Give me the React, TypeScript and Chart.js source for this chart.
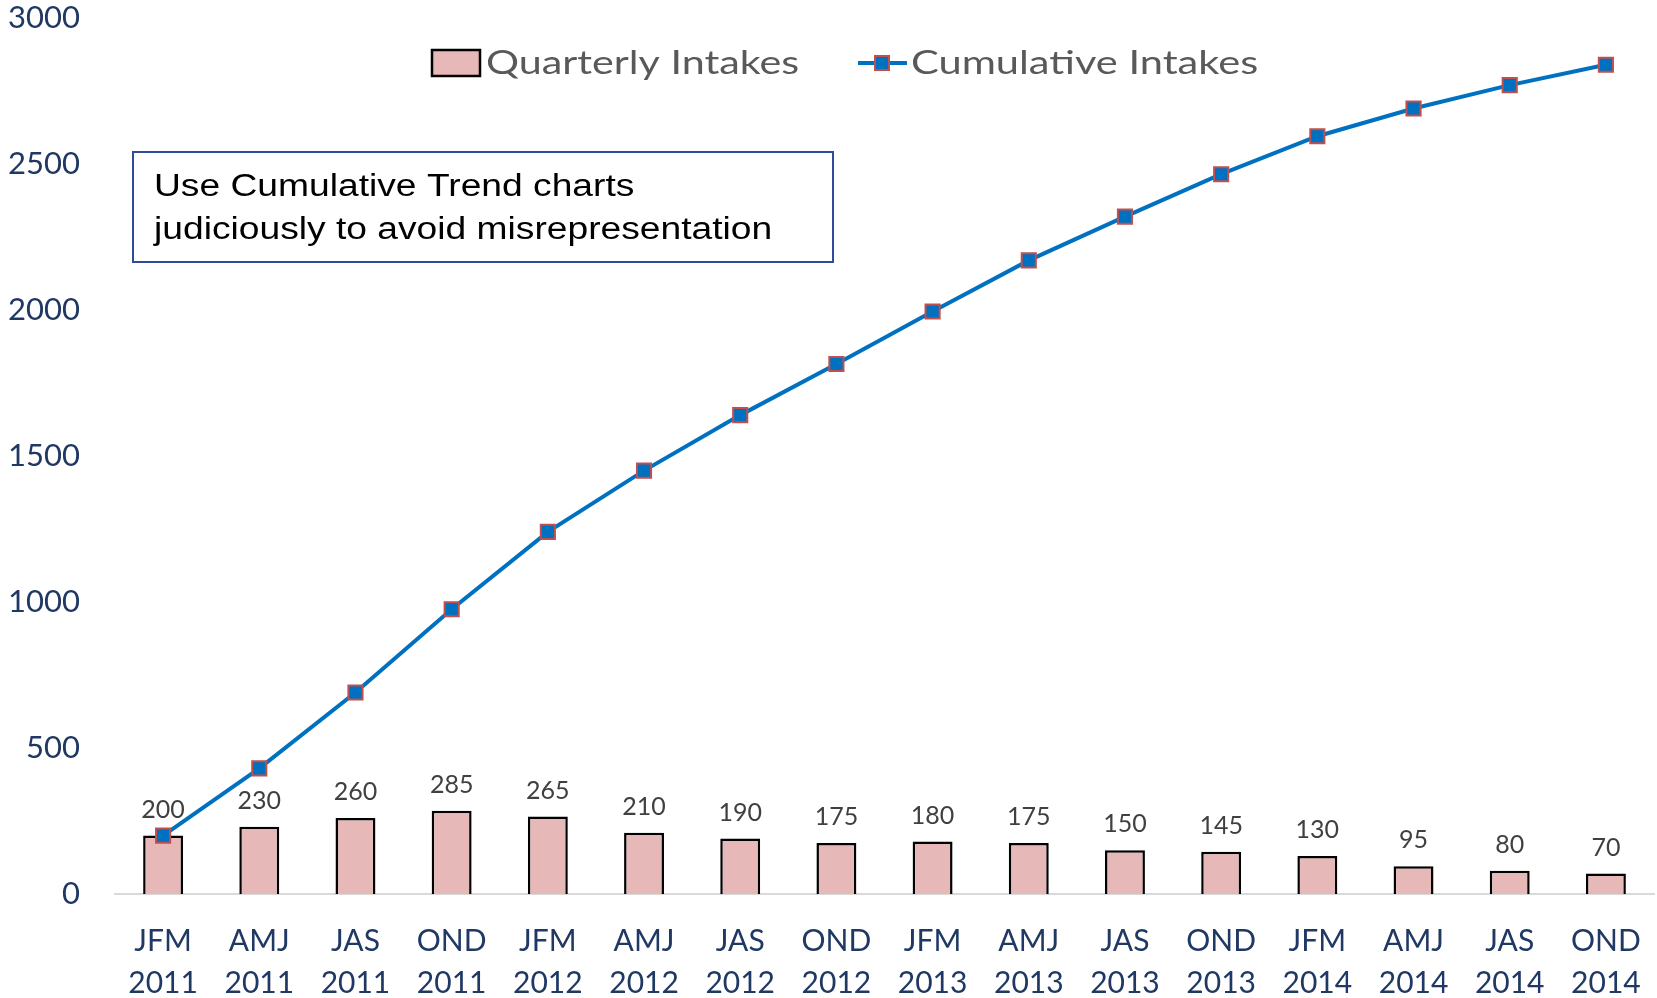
import React, { useEffect, useRef } from 'react';
import { Chart, registerables } from 'chart.js';

Chart.register(...registerables);

const quarterNames = ['JFM', 'AMJ', 'JAS', 'OND', 'JFM', 'AMJ', 'JAS', 'OND', 'JFM', 'AMJ', 'JAS', 'OND', 'JFM', 'AMJ', 'JAS', 'OND'];
const yearNames = ['2011', '2011', '2011', '2011', '2012', '2012', '2012', '2012', '2013', '2013', '2013', '2013', '2014', '2014', '2014', '2014'];
const quarterlyIntakes = [200, 230, 260, 285, 265, 210, 190, 175, 180, 175, 150, 145, 130, 95, 80, 70];
const cumulativeIntakes = [200, 430, 690, 975, 1240, 1450, 1640, 1815, 1995, 2170, 2320, 2465, 2595, 2690, 2770, 2840];
const yAxisMin = 0;
const yAxisMax = 3000;
const yAxisStep = 500;
const seriesNames = ['Quarterly Intakes', 'Cumulative Intakes'];
const noteLines = ['Use Cumulative Trend charts', 'judiciously to avoid misrepresentation'];

const BAR_FILL = '#E6B8B7';
const LINE_BLUE = '#0070C0';
const MARKER_EDGE = '#C0504D';
const AXIS_NAVY = '#1F3864';
const LEGEND_GRAY = '#595959';
const LABEL_GRAY = '#404040';
const TICK_FONT = "Lato, 'Open Sans', sans-serif";

function stretchedText(ctx: CanvasRenderingContext2D, text: string, x: number, y: number, sx: number) {
  ctx.save();
  ctx.translate(x, y);
  ctx.scale(sx, 1);
  ctx.fillText(text, 0, 0);
  ctx.restore();
}

const overlayPlugin = {
  id: 'overlay',
  afterDatasetsDraw(chart: any) {
    const ctx = chart.ctx as CanvasRenderingContext2D;
    const barMeta = chart.getDatasetMeta(1);
    ctx.save();
    ctx.font = `25px ${TICK_FONT}`;
    ctx.fillStyle = LABEL_GRAY;
    ctx.textAlign = 'center';
    ctx.textBaseline = 'middle';
    barMeta.data.forEach((el: any, i: number) => {
      ctx.fillText(String(chart.data.datasets[1].data[i]), el.x, el.y - 26);
    });
    ctx.restore();
  },
  afterDraw(chart: any) {
    const ctx = chart.ctx as CanvasRenderingContext2D;
    ctx.save();
    // legend
    const ly = 63;
    ctx.fillStyle = BAR_FILL;
    ctx.strokeStyle = '#000000';
    ctx.lineWidth = 2.5;
    ctx.fillRect(432, 50, 48, 26);
    ctx.strokeRect(432, 50, 48, 26);
    ctx.font = `32px ${TICK_FONT}`;
    ctx.fillStyle = LEGEND_GRAY;
    ctx.textAlign = 'left';
    ctx.textBaseline = 'middle';
    stretchedText(ctx, seriesNames[0], 486, ly + 1, 1.29);

    ctx.strokeStyle = LINE_BLUE;
    ctx.lineWidth = 4;
    ctx.beginPath();
    ctx.moveTo(858, ly);
    ctx.lineTo(907, ly);
    ctx.stroke();
    ctx.fillStyle = LINE_BLUE;
    ctx.strokeStyle = MARKER_EDGE;
    ctx.lineWidth = 2;
    ctx.fillRect(875, ly - 7, 14, 14);
    ctx.strokeRect(875, ly - 7, 14, 14);
    ctx.fillStyle = LEGEND_GRAY;
    stretchedText(ctx, seriesNames[1], 911, ly + 1, 1.3);

    // annotation box
    ctx.fillStyle = '#FFFFFF';
    ctx.fillRect(133, 152, 700, 110);
    ctx.strokeStyle = '#2F4B9E';
    ctx.lineWidth = 2;
    ctx.strokeRect(133, 152, 700, 110);
    ctx.fillStyle = '#000000';
    ctx.font = "31px 'Liberation Sans', Arial, sans-serif";
    stretchedText(ctx, noteLines[0], 154, 187, 1.2);
    stretchedText(ctx, noteLines[1], 154, 230, 1.2);
    ctx.restore();
  },
};

export default function App() {
  const canvasRef = useRef<HTMLCanvasElement | null>(null);

  useEffect(() => {
    const canvas = canvasRef.current;
    if (!canvas) return;
    const labels = quarterNames.map((q, i) => [q, yearNames[i]]);
    const chart = new Chart(canvas, {
      type: 'bar',
      data: {
        labels,
        datasets: [
          {
            type: 'line',
            label: seriesNames[1],
            data: cumulativeIntakes,
            borderColor: LINE_BLUE,
            borderWidth: 4,
            backgroundColor: LINE_BLUE,
            pointStyle: 'rect',
            pointRadius: 10,
            pointBackgroundColor: LINE_BLUE,
            pointBorderColor: MARKER_EDGE,
            pointBorderWidth: 2,
            tension: 0,
            order: 0,
          } as any,
          {
            type: 'bar',
            label: seriesNames[0],
            data: quarterlyIntakes,
            backgroundColor: BAR_FILL,
            borderColor: '#000000',
            borderWidth: 2.5,
            barPercentage: 0.415,
            categoryPercentage: 1,
            order: 1,
          },
        ],
      },
      options: {
        responsive: false,
        animation: false,
        layout: { autoPadding: false, padding: { top: 18, right: 3, left: 0, bottom: 0 } },
        plugins: {
          legend: { display: false },
          title: { display: false },
          tooltip: { enabled: false },
        },
        scales: {
          x: {
            offset: true,
            grid: { display: false },
            border: { display: true, color: '#D9D9D9', width: 2 },
            ticks: {
              color: AXIS_NAVY,
              font: { family: TICK_FONT, size: 30, lineHeight: 1.4 },
              padding: 18,
              maxRotation: 0,
              autoSkip: false,
            },
            afterFit(scale: any) {
              scale.height = 104;
              scale.paddingLeft = 0;
              scale.paddingRight = 0;
            },
          },
          y: {
            min: yAxisMin,
            max: yAxisMax,
            grid: { display: false },
            border: { display: false },
            ticks: {
              stepSize: yAxisStep,
              color: AXIS_NAVY,
              font: { family: TICK_FONT, size: 31 },
              padding: 27,
              callback: (v: any) => String(v),
            },
            afterFit(scale: any) {
              scale.width = 115;
              scale.paddingTop = 0;
              scale.paddingBottom = 0;
            },
          },
        },
      },
      plugins: [overlayPlugin],
    });
    return () => chart.destroy();
  }, []);

  return (
    <div style={{ position: 'fixed', left: 0, top: 0, width: 1657, height: 998, background: '#fff' }}>
      <canvas ref={canvasRef} width={1657} height={998} style={{ display: 'block' }} />
    </div>
  );
}
